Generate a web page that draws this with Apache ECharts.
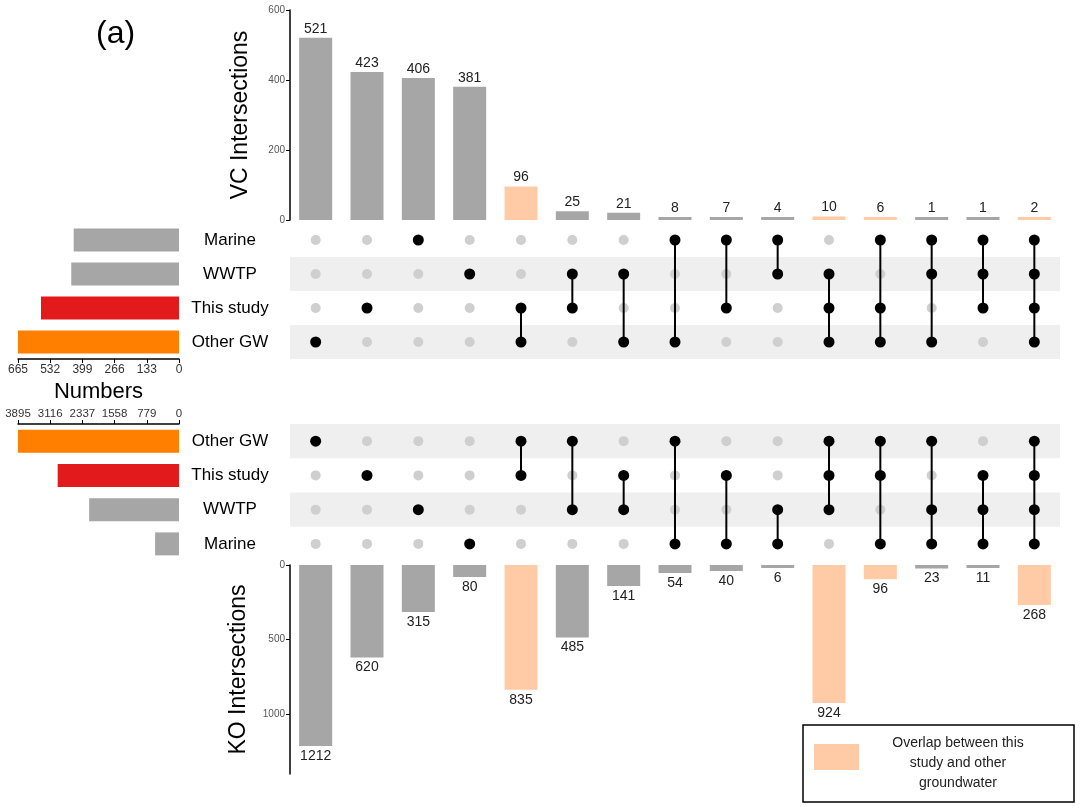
<!DOCTYPE html>
<html><head><meta charset="utf-8">
<script src="https://cdn.jsdelivr.net/npm/echarts@6/dist/echarts.min.js"></script>
<style>html,body{margin:0;padding:0;background:#fff}#c{width:1080px;height:809px}</style>
</head><body><div id="c"></div>
<script>
// ---------- DATA ----------
const columns = ['1','2','3','4','5','6','7','8','9','10','11','12','13','14','15'];
const vcRows = ['Marine', 'WWTP', 'This study', 'Other GW'];
const koRows = ['Other GW', 'This study', 'WWTP', 'Marine'];

const vcValues = [521, 423, 406, 381, 96, 25, 21, 8, 7, 4, 10, 6, 1, 1, 2];
const vcMembers = [
  ['Other GW'], ['This study'], ['Marine'], ['WWTP'],
  ['This study', 'Other GW'], ['WWTP', 'This study'], ['WWTP', 'Other GW'],
  ['Marine', 'Other GW'], ['Marine', 'This study'], ['Marine', 'WWTP'],
  ['WWTP', 'This study', 'Other GW'], ['Marine', 'This study', 'Other GW'],
  ['Marine', 'WWTP', 'Other GW'], ['Marine', 'WWTP', 'This study'],
  ['Marine', 'WWTP', 'This study', 'Other GW']
];
const koValues = [1212, 620, 315, 80, 835, 485, 141, 54, 40, 6, 924, 96, 23, 11, 268];
const koMembers = [
  ['Other GW'], ['This study'], ['WWTP'], ['Marine'],
  ['Other GW', 'This study'], ['Other GW', 'WWTP'], ['This study', 'WWTP'],
  ['Other GW', 'Marine'], ['This study', 'Marine'], ['WWTP', 'Marine'],
  ['Other GW', 'This study', 'WWTP'], ['Other GW', 'This study', 'Marine'],
  ['Other GW', 'WWTP', 'Marine'], ['This study', 'WWTP', 'Marine'],
  ['Other GW', 'This study', 'WWTP', 'Marine']
];
// set sizes (in row order of each panel)
const vcSetSizes = [435, 445, 570, 665];        // Marine, WWTP, This study, Other GW
const koSetSizes = [3895, 2935, 2173, 578];     // Other GW, This study, WWTP, Marine
const vcSizeTicks = [0, 133, 266, 399, 532, 665];
const koSizeTicks = [0, 779, 1558, 2337, 3116, 3895];
const vcTicks = [0, 200, 400, 600];
const koTicks = [0, 500, 1000];
const legendText = 'Overlap between this\nstudy and other\ngroundwater';

// ---------- STYLE ----------
const GREY = '#a6a6a6', PEACH = '#ffcba6', ORANGE = '#ff7f00', RED = '#e31a1c';
const setColor = { 'Other GW': ORANGE, 'This study': RED, 'WWTP': GREY, 'Marine': GREY };
const FONT = 'Liberation Sans, Arial, sans-serif';
const plain = v => String(v);

function isOverlap(m) { return m.includes('This study') && m.includes('Other GW'); }

function barData(values, members) {
  return values.map((v, i) => ({ value: v, itemStyle: { color: isOverlap(members[i]) ? PEACH : GREY } }));
}
function dots(members, rows, member) {
  const out = [];
  members.forEach((m, c) => rows.forEach((r, ri) => {
    if (m.includes(r) === member) out.push([c, ri]);
  }));
  return out;
}
function links(members, rows) {
  const out = [];
  members.forEach((m, c) => {
    const idx = m.map(s => rows.indexOf(s));
    if (idx.length > 1) out.push([c, Math.min(...idx), Math.max(...idx)]);
  });
  return out;
}
const linkRender = function (params, api) {
  const p1 = api.coord([api.value(0), api.value(1)]);
  const p2 = api.coord([api.value(0), api.value(2)]);
  return { type: 'line', shape: { x1: p1[0], y1: p1[1], x2: p2[0], y2: p2[1] }, style: { stroke: '#000', lineWidth: 2 } };
};

const axisLineBlack = { show: true, lineStyle: { color: '#000', width: 1.5 } };
const catHidden = (gi, data) => ({ type: 'category', gridIndex: gi, data: data, show: false });

const option = {
  animation: false,
  textStyle: { fontFamily: FONT },
  grid: [
    { left: 290, top: 10, width: 770, height: 210 },
    { left: 290, top: 223, width: 770, height: 136 },
    { left: 18, top: 223, width: 161, height: 136 },
    { left: 18, top: 424, width: 161, height: 137 },
    { left: 290, top: 424, width: 770, height: 137 },
    { left: 290, top: 565, width: 770, height: 209 }
  ],
  xAxis: [
    catHidden(0, columns),
    catHidden(1, columns),
    { type: 'value', gridIndex: 2, inverse: true, min: 0, max: 665, interval: 133, position: 'bottom',
      axisLine: axisLineBlack, axisTick: { show: true, length: 4, lineStyle: { color: '#000' } },
      axisLabel: { fontSize: 12, color: '#333', margin: 5, formatter: plain, customValues: vcSizeTicks }, splitLine: { show: false },
      name: 'Numbers', nameLocation: 'middle', nameGap: 22, nameTextStyle: { fontSize: 22, color: '#000' } },
    { type: 'value', gridIndex: 3, inverse: true, min: 0, max: 3895, interval: 779, position: 'top',
      axisLine: axisLineBlack, axisTick: { show: true, length: 4, lineStyle: { color: '#000' } },
      axisLabel: { fontSize: 11.5, color: '#333', margin: 4, formatter: plain, customValues: koSizeTicks }, splitLine: { show: false } },
    catHidden(4, columns),
    catHidden(5, columns)
  ],
  yAxis: [
    { type: 'value', gridIndex: 0, min: 0, max: 600, interval: 200,
      axisLine: axisLineBlack, axisTick: { show: true, length: 4, lineStyle: { color: '#000' } },
      axisLabel: { fontSize: 10, color: '#555', margin: 5, formatter: plain, customValues: vcTicks }, splitLine: { show: false },
      name: 'VC Intersections', nameLocation: 'middle', nameRotate: 90, nameGap: 38,
      nameTextStyle: { fontSize: 23, color: '#000' } },
    { type: 'category', gridIndex: 1, data: vcRows, inverse: true,
      axisLine: { show: false }, axisTick: { show: false },
      axisLabel: { fontSize: 17, color: '#000', align: 'center', margin: 60 },
      splitArea: { show: true, areaStyle: { color: ['rgba(255,255,255,0)', '#efefef'] } } },
    { type: 'category', gridIndex: 2, data: vcRows, inverse: true, show: false },
    { type: 'category', gridIndex: 3, data: koRows, inverse: true, show: false },
    { type: 'category', gridIndex: 4, data: koRows, inverse: true,
      axisLine: { show: false }, axisTick: { show: false },
      axisLabel: { fontSize: 17, color: '#000', align: 'center', margin: 60 },
      splitArea: { show: true, areaStyle: { color: ['#efefef', 'rgba(255,255,255,0)'] } } },
    { type: 'value', gridIndex: 5, inverse: true, min: 0, max: 1400,
      axisLine: axisLineBlack,
      axisTick: { show: true, length: 4, lineStyle: { color: '#000' }, customValues: koTicks },
      axisLabel: { fontSize: 10, color: '#555', margin: 5, formatter: plain, customValues: koTicks }, splitLine: { show: false },
      name: 'KO Intersections', nameLocation: 'middle', nameRotate: 90, nameGap: 40,
      nameTextStyle: { fontSize: 23, color: '#000' } }
  ],
  series: [
    { type: 'bar', xAxisIndex: 0, yAxisIndex: 0, barWidth: 33, barMinHeight: 3, data: barData(vcValues, vcMembers),
      label: { show: true, position: 'top', distance: 2, fontSize: 14, color: '#222' } },
    { type: 'scatter', xAxisIndex: 1, yAxisIndex: 1, symbolSize: 10, itemStyle: { color: '#cfcfcf', opacity: 1 },
      data: dots(vcMembers, vcRows, false), z: 3 },
    { type: 'custom', xAxisIndex: 1, yAxisIndex: 1, renderItem: linkRender, data: links(vcMembers, vcRows), z: 4 },
    { type: 'scatter', xAxisIndex: 1, yAxisIndex: 1, symbolSize: 11, itemStyle: { color: '#000', opacity: 1 },
      data: dots(vcMembers, vcRows, true), z: 5 },
    { type: 'bar', xAxisIndex: 2, yAxisIndex: 2, barWidth: 23,
      data: vcSetSizes.map((v, i) => ({ value: v, itemStyle: { color: setColor[vcRows[i]] } })) },
    { type: 'bar', xAxisIndex: 3, yAxisIndex: 3, barWidth: 23,
      data: koSetSizes.map((v, i) => ({ value: v, itemStyle: { color: setColor[koRows[i]] } })) },
    { type: 'scatter', xAxisIndex: 4, yAxisIndex: 4, symbolSize: 10, itemStyle: { color: '#cfcfcf', opacity: 1 },
      data: dots(koMembers, koRows, false), z: 3 },
    { type: 'custom', xAxisIndex: 4, yAxisIndex: 4, renderItem: linkRender, data: links(koMembers, koRows), z: 4 },
    { type: 'scatter', xAxisIndex: 4, yAxisIndex: 4, symbolSize: 11, itemStyle: { color: '#000', opacity: 1 },
      data: dots(koMembers, koRows, true), z: 5 },
    { type: 'bar', xAxisIndex: 5, yAxisIndex: 5, barWidth: 33, barMinHeight: 3, data: barData(koValues, koMembers),
      label: { show: true, position: 'bottom', distance: 3, fontSize: 14, color: '#222' } }
  ],
  graphic: [
    { type: 'text', left: 96, top: 18, style: { text: '(a)', fontSize: 32, fill: '#000', fontFamily: FONT } },
    { type: 'rect', shape: { x: 803, y: 725, width: 271, height: 77 },
      style: { fill: '#fff', stroke: '#000', lineWidth: 1.5 } },
    { type: 'rect', shape: { x: 814, y: 744, width: 45, height: 26 }, style: { fill: PEACH } },
    { type: 'text', x: 958, y: 763, style: { text: legendText, fontSize: 14, lineHeight: 20, fill: '#222',
      align: 'center', verticalAlign: 'middle', fontFamily: FONT } }
  ]
};
echarts.init(document.getElementById('c')).setOption(option);
</script></body></html>
